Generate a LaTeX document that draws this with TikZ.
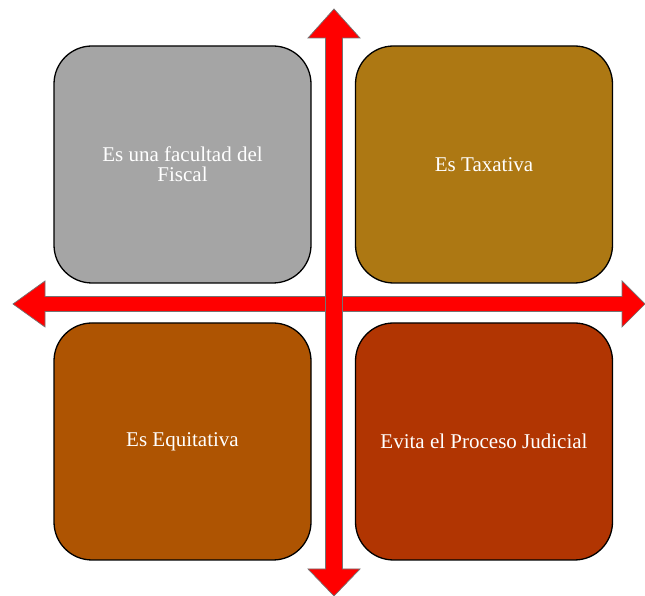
\documentclass[tikz,border=0pt]{standalone}
\usepackage{xcolor}
\usepackage{fontspec}
\setmainfont{Liberation Serif}
\usepackage{tikz}
\usetikzlibrary{positioning}

\definecolor{gris}{HTML}{A5A5A5}
\definecolor{oro}{HTML}{AD7813}
\definecolor{naranja}{HTML}{AE5402}
\definecolor{rojizo}{HTML}{B13502}

\begin{document}
\begin{tikzpicture}[x=1pt,y=1pt]
    \tikzset{caja/.style={rounded corners=38pt,draw=black,line width=1.3pt,minimum width=257pt,minimum height=237pt,text=white,align=center,font=\fontsize{21}{20}\selectfont},
             flecha/.style={fill=red,draw=black!55,line width=0.7pt}}
    \useasboundingbox (0,0) rectangle (645,596);
    \draw[flecha] (13,292) -- (45,315) -- (45,299.5) -- (622,299.5) -- (622,315) -- (645,292) -- (622,269) -- (622,284.5) -- (45,284.5) -- (45,269) -- cycle;
    \draw[flecha] (334,587) -- (360,558) -- (342.5,558) -- (342.5,27) -- (360,27) -- (334,0) -- (308,27) -- (325.5,27) -- (325.5,558) -- (308,558) -- cycle;
    \node [caja,fill=gris] (facultad) at (182.5,431.5) {Es una facultad del\\Fiscal};
    \node [caja,fill=oro] (taxativa) at (484,431.5) {Es Taxativa};
    \node [caja,fill=naranja] (equitativa) at (182.5,154.5) {Es Equitativa};
    \node [caja,fill=rojizo] (evita) at (484,154.5) {Evita el Proceso Judicial};
\end{tikzpicture}
\end{document}
